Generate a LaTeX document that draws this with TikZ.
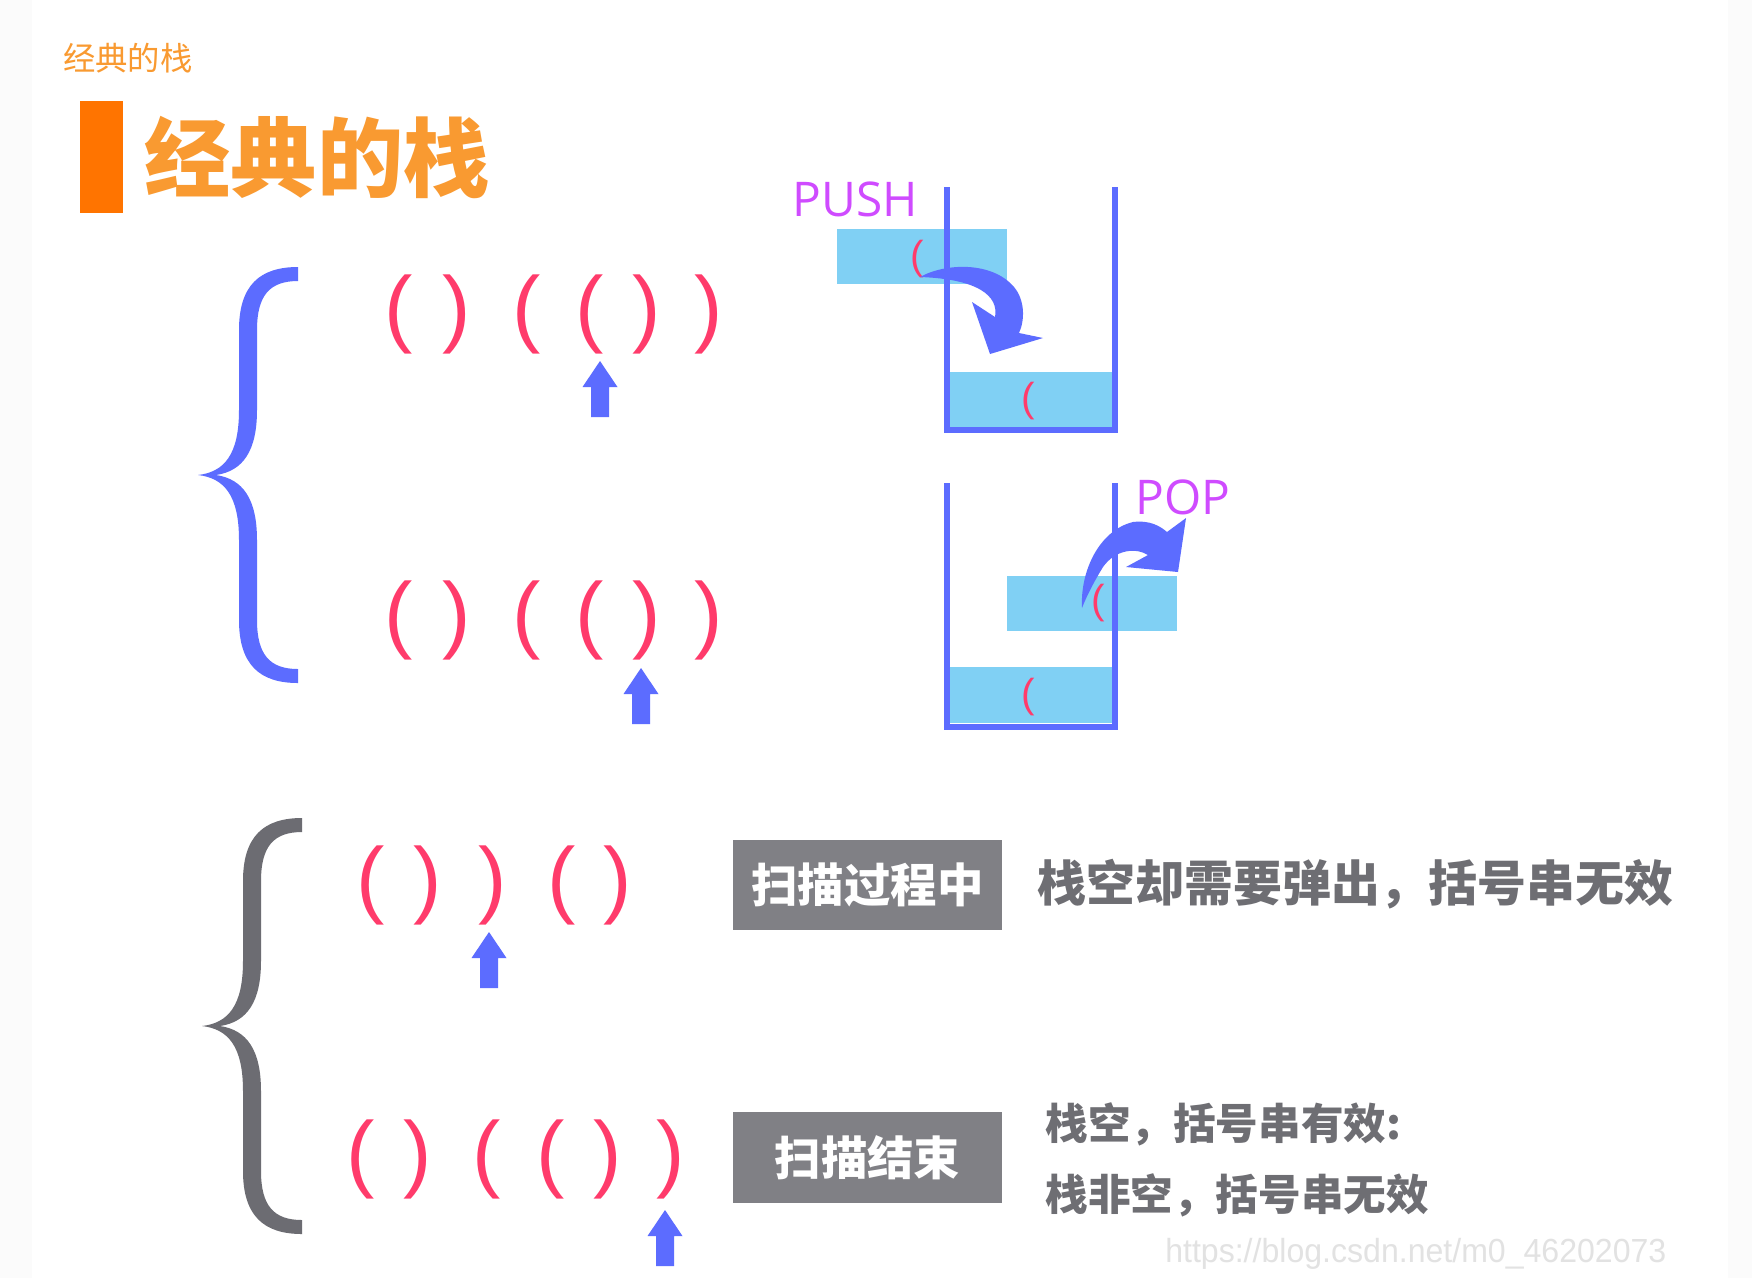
\documentclass[tikz,border=0pt]{standalone}
\usepackage{fontspec}
\setmainfont{Liberation Sans}
\newfontfamily\cjkfont{Noto Sans CJK SC}
\newfontfamily\opfont{Open Sans}
\usepackage{tikz}

\definecolor{edgewhite}{RGB}{251,251,251}
\definecolor{titleorange}{RGB}{249,154,49}
\definecolor{barorange}{RGB}{255,116,0}
\definecolor{stackblue}{RGB}{92,108,255}
\definecolor{cellblue}{RGB}{128,208,244}
\definecolor{parenred}{RGB}{255,59,107}
\definecolor{opmagenta}{RGB}{207,75,255}
\definecolor{bracegray}{RGB}{108,108,114}
\definecolor{boxgray}{RGB}{128,128,133}
\definecolor{notegray}{RGB}{110,110,115}
\definecolor{markgray}{RGB}{226,226,226}

\newcommand\parL{(}
\newcommand\parR{)}
% block arrow pointing up, tip at (#1,#2)
\newcommand\scanarrow[2]{\fill[stackblue] (#1,#2) -- ++(17.5,26) -- ++(-8.5,0) -- ++(0,30) -- ++(-18,0) -- ++(0,-30) -- ++(-8.5,0) -- cycle;}
% curly brace, tip at (#2,#3)
\newcommand\curlybrace[3]{\fill[#1,shift={(#2,#3)}] (100,-208) .. controls (62,-208) and (41,-190) .. (41,-145) -- (41,-65) .. controls (41,-20) and (26,-3) .. (0,0) .. controls (26,3) and (41,20) .. (41,65) -- (41,145) .. controls (41,190) and (62,208) .. (100,208) -- (100,194) .. controls (72,194) and (59,180) .. (59,145) -- (59,65) .. controls (59,24) and (45,4) .. (18,0) .. controls (45,-4) and (59,-24) .. (59,-65) -- (59,-145) .. controls (59,-180) and (72,-194) .. (100,-194) -- cycle;}

\tikzset{
  paren/.style={text=parenred, inner sep=0pt, font=\fontsize{24.2}{25}\selectfont},
  tinyparen/.style={text=parenred, inner sep=0pt, font=\fontsize{11.5}{12}\selectfont},
  cell/.style={fill=cellblue},
  wall/.style={draw=stackblue, line width=0.06cm},
  oplabel/.style={text=opmagenta, inner sep=0pt, font=\opfont\fontsize{13.6}{14}\selectfont},
  graybox/.style={fill=boxgray, text=white, minimum width=2.69cm, minimum height=0.9cm, inner sep=0pt, font=\cjkfont\bfseries\fontsize{13.2}{14}\selectfont},
  note/.style={text=notegray, anchor=west, inner sep=0pt, font=\cjkfont\bfseries\fontsize{#1}{#1}\selectfont},
}

\begin{document}
\begin{tikzpicture}[x=0.01cm, y=-0.01cm]
    \useasboundingbox (0,0) rectangle (1752,1278);
    \fill[edgewhite] (0,0) rectangle (1752,1278);
    \fill[white] (32,0) rectangle (1728,1278);

    % titles
    \node[text=titleorange, inner sep=0pt, font=\cjkfont\fontsize{9.2}{10}\selectfont] (smalltitle) at (128,58) {经典的栈};
    \fill[barorange] (80,101) rectangle (123,213);
    \node[text=titleorange, inner sep=0pt, font=\cjkfont\bfseries\fontsize{24.5}{26}\selectfont] (title) at (317,157) {经典的栈};

    % braces
    \curlybrace{stackblue}{198}{475}
    \curlybrace{bracegray}{202}{1026}

    % bracket strings
    \foreach \x/\c [count=\i] in {399/L,457/R,527/L,590/L,647/R,709/R}
        \node[paren] (push\i) at (\x,314) {\csname par\c\endcsname};
    \foreach \x/\c [count=\i] in {399/L,457/R,527/L,590/L,647/R,709/R}
        \node[paren] (pop\i) at (\x,620) {\csname par\c\endcsname};
    \foreach \x/\c [count=\i] in {371/L,428/R,493/R,562/L,618/R}
        \node[paren] (bad\i) at (\x,885) {\csname par\c\endcsname};
    \foreach \x/\c [count=\i] in {361/L,418/R,487/L,551/L,608/R,671/R}
        \node[paren] (end\i) at (\x,1159) {\csname par\c\endcsname};

    \scanarrow{600}{361}
    \scanarrow{641}{668}
    \scanarrow{489}{932}
    \scanarrow{665}{1210}

    % push stack
    \node[oplabel] (pushlabel) at (855,199) {PUSH};
    \fill[cell] (837,229) rectangle (1007,284);
    \fill[cell] (949,372) rectangle (1113,427);
    \node[tinyparen] (pushin) at (917,259) {(};
    \node[tinyparen] (pushbase) at (1028,401) {(};
    \fill[stackblue] (920,277) .. controls (945,263) and (992,261) .. (1014,287) .. controls (1025,300) and (1025,320) .. (1019,333) -- (1043,338) -- (990,354) -- (972,302) -- (995,317) .. controls (999,296) and (978,279) .. (920,277) -- cycle;
    \draw[wall] (947,187) -- (947,430) -- (1115,430) -- (1115,187);

    % pop stack
    \node[oplabel] (poplabel) at (1183,497) {POP};
    \fill[cell] (1007,576) rectangle (1177,631);
    \fill[cell] (950,667) rectangle (1113,723);
    \node[tinyparen] (popout) at (1098,603) {(};
    \node[tinyparen] (popbase) at (1028,697) {(};
    \fill[stackblue] (1082,608) .. controls (1080,570) and (1100,530) .. (1133,522) .. controls (1150,520) and (1160,526) .. (1167,532) -- (1186,518) -- (1178,572) -- (1126,567) -- (1148,555) .. controls (1135,547) and (1115,550) .. (1103,567) .. controls (1095,580) and (1087,595) .. (1082,608) -- cycle;
    \draw[wall] (947,483) -- (947,727) -- (1115,727) -- (1115,483);

    % results
    \node[graybox] (scanning) at (867.5,885) {扫描过程中};
    \node[note=13.9] (emptypop) at (1037,884) {栈空却需要弹出，括号串无效};
    \node[graybox, minimum height=0.91cm] (scanend) at (867.5,1157.5) {扫描结束};
    \node[note=12.1] (validnote) at (1045,1124) {栈空，括号串有效:};
    \node[note=12.1] (invalidnote) at (1045,1195) {栈非空，括号串无效};

    \node[text=markgray, inner sep=0pt, anchor=east, xscale=0.96, font=\fontsize{9.5}{10}\selectfont] (mark) at (1667,1254) {https://blog.csdn.net/m0\_46202073};
\end{tikzpicture}
\end{document}
